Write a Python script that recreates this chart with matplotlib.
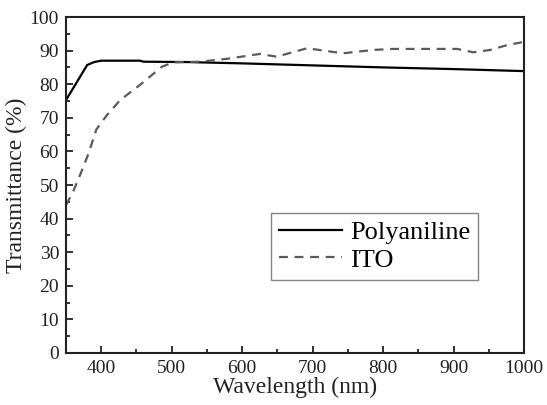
"""
Transmittance spectra of a polyaniline film versus an ITO reference.

Output:
    out.png
"""

import matplotlib
matplotlib.use("Agg")
import matplotlib.pyplot as plt
from matplotlib.ticker import MultipleLocator

# Polyaniline film
PANI_WL = [350, 365, 380, 390, 400, 455, 460, 520, 540, 600, 700, 800, 900, 1000]
PANI_T = [75.3, 80.5, 85.7, 86.6, 87.0, 87.0, 86.7, 86.6, 86.5, 86.2, 85.6, 85.0, 84.5, 83.9]

# ITO reference
ITO_WL = [350, 360, 370, 382, 393, 408, 427, 455, 486, 502, 540, 580, 625, 649,
          692, 743, 786, 814, 905, 928, 952, 977, 1000]
ITO_T = [44.0, 48.0, 53.0, 59.4, 66.5, 70.8, 75.3, 79.8, 85.2, 86.5, 86.7, 87.6,
         89.0, 88.2, 90.7, 89.2, 90.2, 90.5, 90.5, 89.5, 90.2, 91.7, 92.6]

FONT = ["Liberation Serif", "DejaVu Serif"]


def plot_spectra(out_path: str) -> None:
    plt.rcParams["font.family"] = FONT
    fig = plt.figure(figsize=(5.47, 4.05), dpi=100)
    ax = fig.add_axes([0.1207, 0.1284, 0.8373, 0.8296])

    ax.plot(PANI_WL, PANI_T, color="black", lw=1.6, label="Polyaniline")
    ax.plot(ITO_WL, ITO_T, color="#5a5a5a", lw=1.6, ls=(0, (4, 3)), label="ITO")

    ax.set_xlim(350, 1000)
    ax.set_ylim(0, 100)
    ax.xaxis.set_major_locator(MultipleLocator(100))
    ax.xaxis.set_minor_locator(MultipleLocator(50))
    ax.yaxis.set_major_locator(MultipleLocator(10))
    ax.yaxis.set_minor_locator(MultipleLocator(5))
    ax.tick_params(which="both", direction="in", top=False, right=False,
                   width=1.3, labelsize=14, pad=5, colors="#222222")
    ax.tick_params(which="major", length=5)
    ax.tick_params(which="minor", length=3)
    for sp in ax.spines.values():
        sp.set_linewidth(1.5)
        sp.set_color("#222222")

    ax.set_xlabel("Wavelength (nm)", fontsize=17, color="#222222", labelpad=0)
    ax.set_ylabel("Transmittance (%)", fontsize=17, color="#222222", labelpad=2)

    leg = ax.legend(loc="upper right", bbox_to_anchor=(0.9, 0.417),
                    borderaxespad=0, fontsize=19, fancybox=False,
                    handlelength=2.4, handletextpad=0.3, borderpad=0.3,
                    labelspacing=0.15)
    leg.get_frame().set_edgecolor("#666666")
    leg.get_frame().set_linewidth(1.0)

    fig.savefig(out_path, dpi=100)
    plt.close(fig)


def main() -> None:
    plot_spectra("out.png")


if __name__ == "__main__":
    main()
